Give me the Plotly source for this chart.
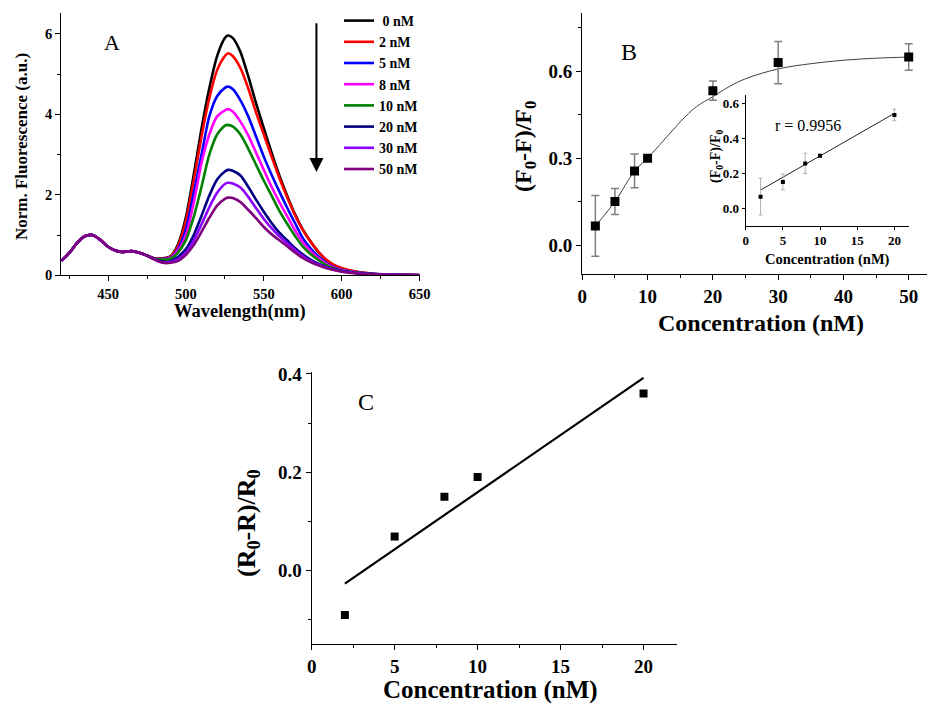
import plotly.graph_objects as go

W, H = 928, 704
SERIF = "Liberation Serif"

# ---------------- Panel A data ----------------
wavelength = [420, 425, 430, 435, 440, 445, 450, 455, 460, 465, 470, 475, 480,
              485, 490, 495, 500, 505, 510, 515, 520, 525, 527, 530, 535, 540,
              545, 550, 555, 560, 565, 570, 575, 580, 585, 590, 595, 600, 610,
              620, 630, 640, 650]
common = [0.36, 0.55, 0.80, 0.97, 1.00, 0.88, 0.71, 0.61, 0.58, 0.60, 0.56, 0.49]
conc_labels = ["\u00a00 nM", "2 nM", "5 nM", "8 nM", "10 nM", "20 nM", "30 nM", "50 nM"]
colors = ["#000000", "#ff0000", "#0000ff", "#ff00ff", "#008000", "#000080", "#8b00ff", "#800080"]
spec_0 = common + [0.42, 0.42, 0.47, 0.78, 1.45, 2.50, 3.65, 4.65, 5.45, 5.90, 5.96, 5.90, 5.55, 4.95,
                   4.28, 3.66, 3.05, 2.48, 1.98, 1.52, 1.14, 0.84, 0.58, 0.38, 0.25, 0.17, 0.08,
                   0.04, 0.02, 0.01, 0.004]
spec_2 = common + [0.42, 0.42, 0.46, 0.74, 1.35, 2.35, 3.45, 4.40, 5.10, 5.45, 5.52, 5.45, 5.15, 4.65,
                   4.05, 3.50, 2.95, 2.42, 1.94, 1.50, 1.13, 0.84, 0.59, 0.39, 0.26, 0.18, 0.085,
                   0.04, 0.02, 0.01, 0.004]
spec_5 = common + [0.41, 0.41, 0.44, 0.66, 1.15, 2.05, 3.00, 3.95, 4.45, 4.66, 4.69, 4.63, 4.35, 3.95,
                   3.45, 2.95, 2.50, 2.08, 1.68, 1.30, 0.93, 0.67, 0.47, 0.31, 0.20, 0.14, 0.07,
                   0.035, 0.018, 0.009, 0.004]
spec_8 = common + [0.41, 0.40, 0.43, 0.62, 1.00, 1.80, 2.80, 3.50, 3.95, 4.10, 4.13, 4.07, 3.82, 3.48,
                   3.05, 2.62, 2.20, 1.82, 1.47, 1.12, 0.82, 0.60, 0.43, 0.29, 0.19, 0.13, 0.065,
                   0.032, 0.016, 0.008, 0.003]
spec_10 = common + [0.41, 0.39, 0.41, 0.57, 0.88, 1.45, 2.20, 3.00, 3.50, 3.72, 3.74, 3.70, 3.50, 3.15,
                    2.75, 2.35, 1.98, 1.60, 1.28, 0.98, 0.72, 0.53, 0.38, 0.26, 0.17, 0.12, 0.06,
                    0.03, 0.015, 0.007, 0.003]
spec_20 = common + [0.40, 0.34, 0.35, 0.46, 0.65, 1.00, 1.48, 1.98, 2.38, 2.58, 2.62, 2.60, 2.48, 2.20,
                    1.88, 1.58, 1.30, 1.06, 0.87, 0.68, 0.52, 0.39, 0.29, 0.21, 0.15, 0.11, 0.055,
                    0.028, 0.014, 0.007, 0.003]
spec_30 = common + [0.39, 0.32, 0.33, 0.40, 0.57, 0.87, 1.27, 1.69, 2.05, 2.27, 2.30, 2.28, 2.18, 1.95,
                    1.67, 1.40, 1.17, 0.97, 0.80, 0.63, 0.48, 0.36, 0.27, 0.20, 0.14, 0.10, 0.05,
                    0.025, 0.013, 0.006, 0.003]
spec_50 = common + [0.39, 0.31, 0.31, 0.36, 0.51, 0.75, 1.08, 1.43, 1.73, 1.90, 1.93, 1.92, 1.82, 1.63,
                    1.42, 1.20, 1.02, 0.87, 0.72, 0.57, 0.43, 0.33, 0.25, 0.18, 0.13, 0.09, 0.045,
                    0.022, 0.011, 0.005, 0.002]
spectra = [spec_0, spec_2, spec_5, spec_8, spec_10, spec_20, spec_30, spec_50]

# ---------------- Panel B data ----------------
conc_b = [2, 5, 8, 10, 20, 30, 50]
ratio_b = [0.066, 0.150, 0.256, 0.300, 0.533, 0.630, 0.649]
err_b = [0.105, 0.045, 0.058, 0.008, 0.033, 0.073, 0.046]
fit_b_x = [2, 5, 8, 10, 12.5, 15, 17.5, 20, 22.5, 25, 30, 35, 40, 45, 50]
fit_b_y = [0.066, 0.150, 0.255, 0.300, 0.362, 0.425, 0.478, 0.512, 0.547, 0.574, 0.608, 0.626,
           0.638, 0.645, 0.649]

# inset (linear range)
conc_in = [2, 5, 8, 10, 20]
ratio_in = [0.066, 0.150, 0.256, 0.300, 0.533]
err_in = [0.105, 0.045, 0.058, 0.008, 0.033]
fit_in_x = [2, 20]
fit_in_y = [0.104, 0.542]

# ---------------- Panel C data ----------------
conc_c = [2, 5, 8, 10, 20]
ratio_c = [-0.091, 0.069, 0.150, 0.190, 0.360]
fit_c_x = [2, 20]
fit_c_y = [-0.027, 0.392]


def px_x(p):
    return p / W


def px_y(p):
    return 1 - p / H


def dom_x(a, b):
    return [max(0.0, px_x(a)), min(1.0, px_x(b))]


def dom_y(bottom, top):
    return [max(0.0, px_y(bottom)), min(1.0, px_y(top))]


fig = go.Figure()

for lab, col, ys in zip(conc_labels, colors, spectra):
    fig.add_trace(go.Scatter(x=wavelength, y=ys, mode="lines", name=lab,
                             line=dict(color=col, width=2.6, shape="spline", smoothing=0.7),
                             xaxis="x", yaxis="y"))

# Panel B
fig.add_trace(go.Scatter(x=fit_b_x, y=fit_b_y, mode="lines", showlegend=False,
                         line=dict(color="#404040", width=1, shape="spline", smoothing=1.0),
                         xaxis="x2", yaxis="y2"))
fig.add_trace(go.Scatter(x=conc_b, y=ratio_b, mode="markers", showlegend=False,
                         marker=dict(symbol="square", size=9, color="black"),
                         error_y=dict(type="data", array=err_b, color="#808080", thickness=1.5, width=4),
                         xaxis="x2", yaxis="y2"))

# Inset
fig.add_trace(go.Scatter(x=fit_in_x, y=fit_in_y, mode="lines", showlegend=False,
                         line=dict(color="#222222", width=1), xaxis="x3", yaxis="y3"))
fig.add_trace(go.Scatter(x=conc_in, y=ratio_in, mode="markers", showlegend=False,
                         marker=dict(symbol="square", size=4, color="black"),
                         error_y=dict(type="data", array=err_in, color="#b0b0b0", thickness=1, width=2),
                         xaxis="x3", yaxis="y3"))

# Panel C
fig.add_trace(go.Scatter(x=fit_c_x, y=fit_c_y, mode="lines", showlegend=False,
                         line=dict(color="black", width=2.2), xaxis="x4", yaxis="y4"))
fig.add_trace(go.Scatter(x=conc_c, y=ratio_c, mode="markers", showlegend=False,
                         marker=dict(symbol="square", size=8, color="black"),
                         xaxis="x4", yaxis="y4"))


def axis(domain, rng, fsize, anchor, dtick=None, tickvals=None, minor=None, fmt=None, ticklen=5):
    d = dict(domain=domain, range=rng, anchor=anchor, showline=True, linecolor="black",
             linewidth=1.3, ticks="outside", ticklen=ticklen, tickwidth=1.3, tickcolor="black",
             showgrid=False, zeroline=False, mirror=False, automargin=False,
             tickfont=dict(family=SERIF, size=fsize, color="black", weight="bold"))
    if dtick is not None:
        d["dtick"] = dtick
        d["tick0"] = 0
    if tickvals is not None:
        d["tickmode"] = "array"
        d["tickvals"] = tickvals
    if minor is not None:
        d["minor"] = dict(dtick=minor, tick0=0, ticks="outside", ticklen=3, tickwidth=1.2,
                          tickcolor="black", showgrid=False)
    if fmt:
        d["tickformat"] = fmt
    return d


layout = dict(
    width=W, height=H, margin=dict(l=0, r=0, t=0, b=0, pad=0, autoexpand=False),
    paper_bgcolor="white", plot_bgcolor="white",
    font=dict(family=SERIF, color="black", size=14),
    showlegend=True,
    legend=dict(x=px_x(339), y=px_y(5), xanchor="left", yanchor="top",
                bgcolor="rgba(0,0,0,0)", borderwidth=0, tracegroupgap=0,
                font=dict(family=SERIF, size=14, color="black", weight="bold")),
    xaxis=axis(dom_x(61.4, 419.5), [420, 650], 14.5, "y", dtick=50, minor=25),
    yaxis=axis(dom_y(275.3, 13), [0, 6.52], 14.5, "x", dtick=2, minor=1),
    xaxis2=axis(dom_x(582.3, 927), [0, 52.8], 19, "y2", dtick=10, minor=5),
    yaxis2=axis(dom_y(274, 13.3), [-0.1, 0.8], 19, "x2", tickvals=[0, 0.3, 0.6],
                minor=0.15, fmt=".1f"),
    xaxis3=axis(dom_x(745.7, 909.3), [0, 22], 13, "y3", dtick=5, ticklen=3),
    yaxis3=axis(dom_y(225.7, 95), [-0.1, 0.647], 13, "x3", dtick=0.2, fmt=".1f", ticklen=3),
    xaxis4=axis(dom_x(311.7, 676.7), [0, 22], 19, "y4", dtick=5, minor=2.5),
    yaxis4=axis(dom_y(644, 372), [-0.15, 0.404], 19, "x4", dtick=0.2, minor=0.1, fmt=".1f"),
)
fig.update_layout(**layout)


def label(text, x, y, size, bold=True, angle=0):
    fig.add_annotation(text=text, x=px_x(x), y=px_y(y), xref="paper", yref="paper",
                       showarrow=False, xanchor="center", yanchor="middle", textangle=angle,
                       font=dict(family=SERIF, size=size, color="black",
                                 weight="bold" if bold else "normal"))


# axis titles
label("Wavelength(nm)", 240, 312, 18.5)
label("Norm. Fluorescence (a.u.)", 22, 147, 17, angle=-90)
label("Concentration (nM)", 761, 323, 24)
label("(F<sub>0</sub>-F)/F<sub>0</sub>", 525, 147, 24, angle=-90)
label("Concentration (nM)", 827, 259, 14.5)
label("(F<sub>0</sub>-F)/F<sub>0</sub>", 716, 157, 14, angle=-90)
label("Concentration (nM)", 490, 690, 25)
label("(R<sub>0</sub>-R)/R<sub>0</sub>", 248, 523, 26, angle=-90)

# panel letters and note
label("A", 112, 42, 22, bold=False)
label("B", 629, 52, 24, bold=False)
label("C", 366, 402, 24, bold=False)
label("r = 0.9956", 808, 126, 16, bold=False)

# arrow in panel A
fig.add_annotation(x=583.8, y=2.57, ax=583.8, ay=6.30, xref="x", yref="y", axref="x", ayref="y",
                   showarrow=True, arrowhead=2, arrowsize=1.4, arrowwidth=2, arrowcolor="black",
                   text="")

# remove the default page margin so the 928x704 figure fills the window exactly
page_fix = (
    "document.documentElement.style.margin='0';"
    "document.documentElement.style.overflow='hidden';"
    "document.body.style.margin='0';"
    "document.body.style.overflow='hidden';"
    "var gd=document.getElementById('{plot_id}');gd.style.display='block';"
)

fig.write_html("out.html", post_script=page_fix, config={"displayModeBar": False})
